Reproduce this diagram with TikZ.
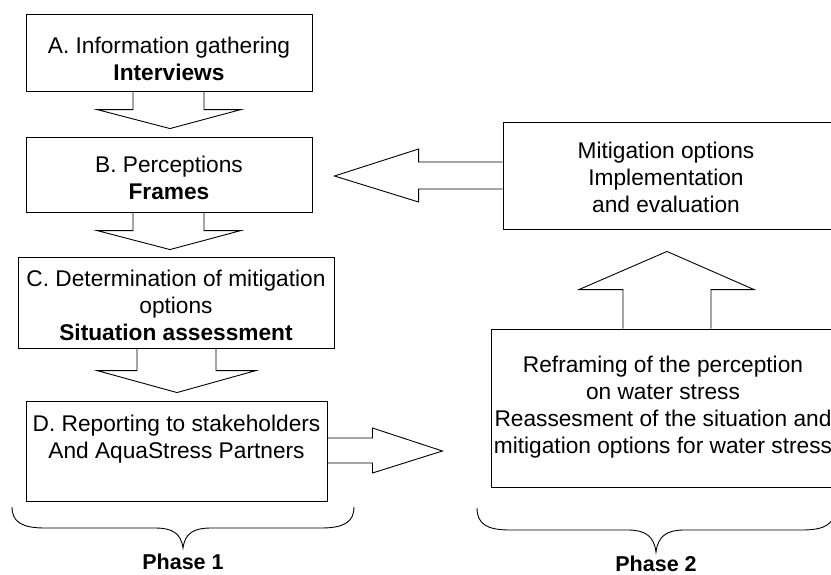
\documentclass[tikz,border=0pt]{standalone}
\usepackage{fontspec}
\setmainfont{Liberation Sans}
\usetikzlibrary{calc}
\tikzset{
  box/.style={draw=black, line width=0.9pt, rectangle, inner sep=0pt},
  txt/.style={align=center, inner sep=0pt, font=\fontsize{22.7}{27}\selectfont},
  blk/.style={draw=black, line width=0.9pt, line join=miter},
  phase/.style={inner sep=0pt, anchor=base, font=\fontsize{21.5}{26}\selectfont\bfseries},
}
\begin{document}
\begin{tikzpicture}[x=1pt,y=-1pt]
\useasboundingbox (0,0) rectangle (831,574);
\clip (0,0) rectangle (831,574);
\fill[white] (0,0) rectangle (831,574);
% boxes
\node[box, minimum width=286, minimum height=77] (A) at (169,52.5) {};
\node[box, minimum width=286, minimum height=75] (B) at (169,174.5) {};
\node[box, minimum width=316, minimum height=91] (C) at (176,302.5) {};
\node[box, minimum width=301, minimum height=100] (D) at (176.5,451) {};
\node[box, minimum width=337, minimum height=107] (M) at (671.5,175.5) {};
\node[box, minimum width=349, minimum height=158] (R) at (665.5,408) {};
% texts
\node[txt] (At) at ($(A.center)+(0,6)$) {A. Information gathering\\\textbf{Interviews}};
\node[txt] (Bt) at ($(B.center)+(0,3)$) {B. Perceptions\\\textbf{Frames}};
\node[txt] (Ct) at ($(C.center)+(0,3)$) {C. Determination of mitigation\\options\\\textbf{Situation assessment}};
\node[txt] (Dt) at ($(D.center)+(0,-11.5)$) {D. Reporting to stakeholders\\And AquaStress Partners};
\node[txt] (Mt) at (666,177) {Mitigation options\\Implementation\\and evaluation};
\node[txt] (Rt) at (663,407.5) {Reframing of the perception\\on water stress\\Reassesment of the situation and\\mitigation options for water stress};
% block arrows
\draw[blk] ($(A.south)+(-36,0)$) |- ($(B.north)+(-72,-27)$) -- ($(B.north)+(1,-8)$) -- ($(B.north)+(72,-27)$) -| ($(A.south)+(35,0)$);
\draw[blk] ($(B.south)+(-36,0)$) |- ($(C.north)+(-79,-26)$) -- ($(C.north)+(-6,-7)$) -- ($(C.north)+(65,-26)$) -| ($(B.south)+(35,0)$);
\draw[blk] ($(C.south)+(-39,0)$) |- ($(D.north)+(-79.5,-30)$) -- ($(D.north)+(0.5,-8)$) -- ($(D.north)+(79.5,-30)$) -| ($(C.south)+(40,0)$);
\draw[blk] ($(D.east)+(0,-13)$) -| ($(D.east)+(45,-23)$) -- ($(D.east)+(115,0)$) -- ($(D.east)+(45,22)$) |- ($(D.east)+(0,12)$);
\draw[blk] ($(M.west)+(0,-13.5)$) -| ($(M.west)+(-84,-26.5)$) -- ($(B.east)+(22,1.5)$) -- ($(M.west)+(-84,26.5)$) |- ($(M.west)+(0,13.5)$);
\draw[blk] ($(R.north)+(-42.5,0)$) |- ($(R.north)+(-86.5,-39)$) -- ($(M.south)+(-4.5,22)$) -- ($(R.north)+(88.5,-39)$) -| ($(R.north)+(45.5,0)$);
% braces
\coordinate (P1tip) at (183,548);
\coordinate (P2tip) at (656,552);
\draw[line width=0.9pt] (12,507) .. controls (12,522) and (22,528) .. (45,528) -- (155,528)
  .. controls (172,528) and (181,533) .. (P1tip) .. controls (185,533) and (194,528) .. (211,528)
  -- (321,528) .. controls (344,528) and (354,522) .. (354,507);
\draw[line width=0.9pt] (477,508) .. controls (477,524) and (487,530) .. (510,530) -- (628,530)
  .. controls (645,530) and (654,536) .. (P2tip) .. controls (658,536) and (667,530) .. (684,530)
  -- (802,530) .. controls (825,530) and (835,524) .. (835,508);
\node[phase] (P1) at (183,569) {Phase 1};
\node[phase] (P2) at (656,571) {Phase 2};
\end{tikzpicture}
\end{document}
